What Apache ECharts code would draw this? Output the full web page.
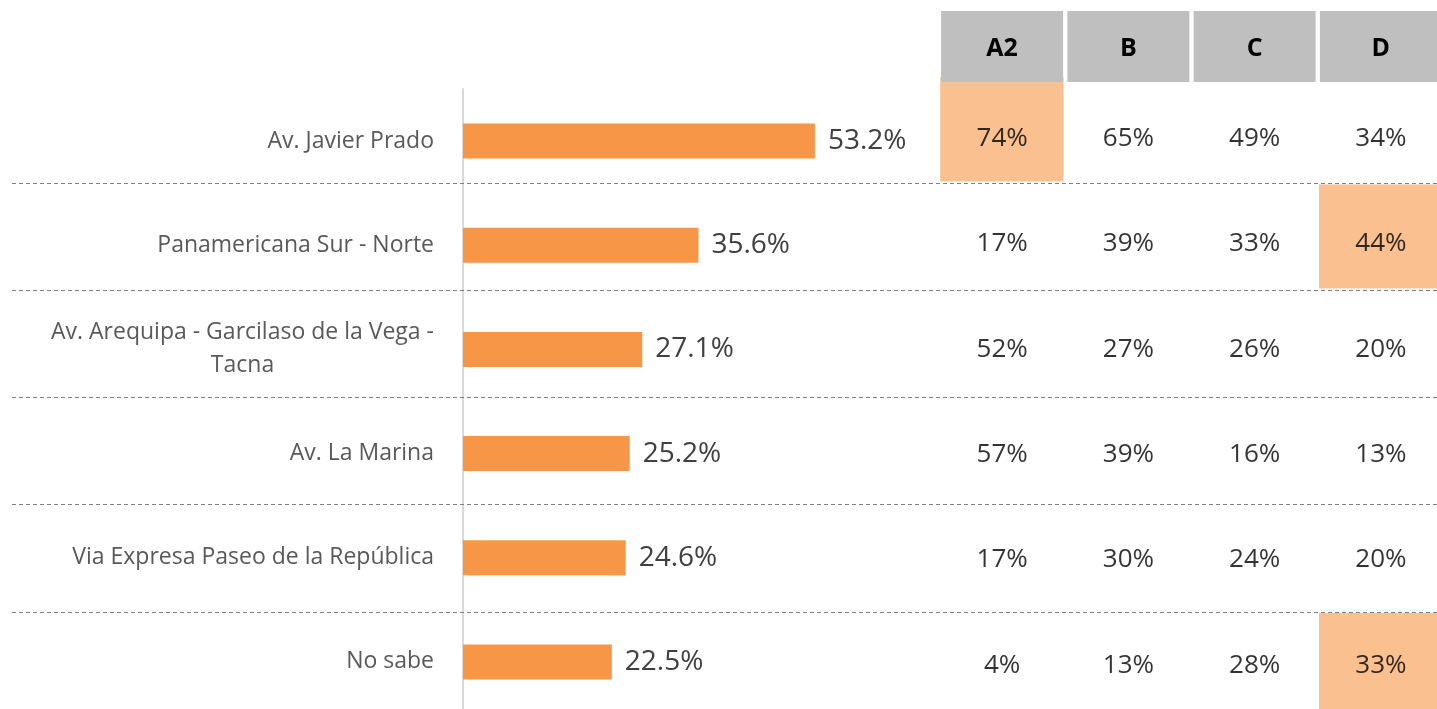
<!DOCTYPE html>
<html>
<head>
<meta charset="utf-8">
<script src="https://cdn.jsdelivr.net/npm/echarts@6/dist/echarts.min.js"></script>
<style>
  html, body { margin: 0; padding: 0; background: #fff; }
  #main { width: 1437px; height: 709px; }
</style>
</head>
<body>
<div id="main"></div>
<script>
// data
const categories = [
  'Av. Javier Prado',
  'Panamericana Sur - Norte',
  'Av. Arequipa - Garcilaso de la Vega - Tacna',
  'Av. La Marina',
  'Via Expresa Paseo de la República',
  'No sabe'
];
const totals = [53.2, 35.6, 27.1, 25.2, 24.6, 22.5];

const columns = ['A2', 'B', 'C', 'D'];
const colA2 = [74, 17, 52, 57, 17, 4];
const colB = [65, 39, 27, 39, 30, 13];
const colC = [49, 33, 26, 16, 24, 28];
const colD = [34, 44, 20, 13, 20, 33];
// highlighted cells: [column, row]
const highlighted = [[0, 0], [3, 1], [3, 5]];

const font = '"Open Sans", "Noto Sans", sans-serif';
const rowIds = categories.map(function (c, i) { return i; });

let tableData = [];
[colA2, colB, colC, colD].forEach(function (col, c) {
  col.forEach(function (v, r) {
    let flag = highlighted.some(function (h) { return h[0] === c && h[1] === r; }) ? 1 : 0;
    tableData.push([c, r, v, flag]);
  });
});

let myChart = echarts.init(document.getElementById('main'));

const option = {
  animation: false,
  backgroundColor: '#fff',
  grid: [
    // bars
    { left: 463, top: 89, width: 463, height: 625, outerBoundsMode: 'none' },
    // table cells
    { left: 939, top: 76, width: 505, height: 643, outerBoundsMode: 'none' },
    // dashed separators
    { left: 12, top: 76, width: 1425, height: 643, outerBoundsMode: 'none' },
    // table texts + header
    { left: 939, top: 86, width: 505, height: 632, outerBoundsMode: 'none' }
  ],
  xAxis: [
    { gridIndex: 0, type: 'value', min: 0, max: 70, show: false },
    { gridIndex: 1, type: 'category', data: columns, show: false },
    { gridIndex: 2, type: 'value', show: false },
    {
      gridIndex: 3, type: 'category', data: columns, position: 'top', z: 15,
      axisLine: { show: false }, axisTick: { show: false },
      axisLabel: {
        margin: 4,
        width: 122,
        height: 69,
        lineHeight: 67,
        padding: [2, 0, 0, 0],
        align: 'center',
        backgroundColor: '#bfbfbf',
        color: '#000',
        fontWeight: 'bold',
        fontSize: 25,
        fontFamily: font
      }
    }
  ],
  yAxis: [
    {
      gridIndex: 0, type: 'category', data: categories, inverse: true,
      axisLine: { show: true, lineStyle: { color: '#d9d9d9', width: 2 } },
      axisTick: { show: false },
      axisLabel: {
        margin: 29,
        color: '#595959',
        fontSize: 23,
        lineHeight: 33,
        fontFamily: font,
        formatter: function (v) {
          if (v.length > 40) {
            let i = v.lastIndexOf(' ');
            return v.slice(0, i) + '\n{t|' + v.slice(i + 1) + '}';
          }
          return v;
        },
        rich: {
          t: { width: 372, align: 'center', color: '#595959', fontSize: 23, lineHeight: 33, fontFamily: font }
        }
      }
    },
    { gridIndex: 1, type: 'category', inverse: true, data: rowIds, show: false },
    {
      gridIndex: 2, type: 'category', inverse: true, z: 10, data: rowIds,
      axisLine: { show: false }, axisTick: { show: false }, axisLabel: { show: false },
      splitLine: {
        show: true, showMinLine: false, showMaxLine: false,
        lineStyle: { color: '#808080', type: [4, 3], width: 1 }
      }
    },
    { gridIndex: 3, type: 'category', inverse: true, data: rowIds, show: false }
  ],
  visualMap: {
    show: false,
    type: 'piecewise',
    seriesIndex: 1,
    dimension: 3,
    pieces: [
      { value: 1, color: '#fac090' },
      { value: 0, color: '#ffffff' }
    ]
  },
  series: [
    {
      type: 'bar',
      xAxisIndex: 0, yAxisIndex: 0,
      data: totals,
      barWidth: 35,
      itemStyle: { color: '#f79646' },
      label: {
        show: true,
        position: 'right',
        distance: 13,
        color: '#404040',
        fontSize: 28,
        fontFamily: font,
        formatter: function (p) { return p.value.toFixed(1) + '%'; }
      }
    },
    {
      type: 'heatmap',
      xAxisIndex: 1, yAxisIndex: 1,
      data: tableData,
      itemStyle: { borderColor: '#fff', borderWidth: 3 }
    },
    {
      type: 'scatter',
      xAxisIndex: 3, yAxisIndex: 3,
      data: tableData,
      symbolSize: 0,
      z: 12,
      label: {
        show: true,
        position: 'inside',
        color: '#000',
        fontSize: 26,
        fontFamily: font,
        formatter: function (p) { return p.value[2] + '%'; }
      }
    }
  ]
};

myChart.setOption(option);
</script>
</body>
</html>
